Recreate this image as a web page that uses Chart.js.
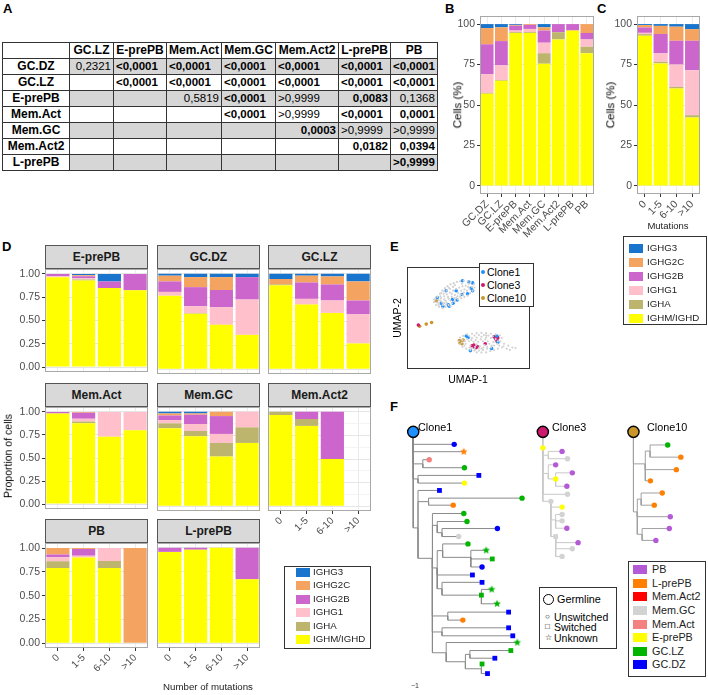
<!DOCTYPE html>
<html><head><meta charset="utf-8">
<script src="https://cdn.jsdelivr.net/npm/chart.js@4.4.1/dist/chart.umd.min.js"></script>
<style>
html,body{margin:0;padding:0;background:#fff}
body{width:708px;height:695px;position:relative;overflow:hidden;font-family:"Liberation Sans",Arial,Helvetica,sans-serif;color:#000}
canvas{position:absolute;pointer-events:none}
.t{position:absolute;white-space:nowrap;line-height:1}
table.pt{position:absolute;left:2px;top:42px;border-collapse:collapse;table-layout:fixed}
table.pt td{border:1px solid #333;height:15px;padding:0 2px;white-space:nowrap;line-height:15px;font-size:11.5px;overflow:hidden}
table.pt td.h{font-weight:bold;text-align:center;font-size:12px}
table.pt td.g{background:#d6d6d6}
table.pt td.b{font-weight:bold}
table.pt td.r{text-align:right}
table.pt td.l{text-align:left}
.strip{position:absolute;background:#d9d9d9;border:1px solid #555;box-sizing:border-box;text-align:center;font-weight:bold;font-size:12px;color:#1a1a1a}
.box{position:absolute;border:1px solid #333;box-sizing:border-box;background:#fff}
.sw{position:absolute;width:14px;height:9px}
</style></head><body>
<script>
// ---------------- DATA ----------------
// Panel A
const tableCols=['GC.LZ','E-prePB','Mem.Act','Mem.GC','Mem.Act2','L-prePB','PB'];
const tableRows=['GC.DZ','GC.LZ','E-prePB','Mem.Act','Mem.GC','Mem.Act2','L-prePB'];
const pValues=[
 ['0,2321','<0,0001','<0,0001','<0,0001','<0,0001','<0,0001','<0,0001'],
 ['','<0,0001','<0,0001','<0,0001','<0,0001','<0,0001','<0,0001'],
 ['','','0,5819','<0,0001','>0,9999','0,0083','0,1368'],
 ['','','','<0,0001','>0,9999','<0,0001','0,0001'],
 ['','','','','0,0003','>0,9999','>0,9999'],
 ['','','','','','0,0182','0,0394'],
 ['','','','','','','>0,9999']];
const pBold=[
 [0,1,1,1,1,1,1],[0,1,1,1,1,1,1],[0,0,0,1,0,1,0],[0,0,0,1,0,1,1],[0,0,0,0,1,0,0],[0,0,0,0,0,1,1],[0,0,0,0,0,0,1]];

// Isotypes (stack order bottom -> top)
const isoNames=['IGHM/IGHD','IGHA','IGHG1','IGHG2B','IGHG2C','IGHG3'];
const legendOrder=['IGHG3','IGHG2C','IGHG2B','IGHG1','IGHA','IGHM/IGHD'];

// Panel B (% cells per population)
const popLabels=['GC.DZ','GC.LZ','E-prePB','Mem.Act','Mem.GC','Mem.Act2','L-prePB','PB'];
const bIGHM =[57,65,94.5,94.5,75.5,90.5,96,82];
const bIGHA =[0.5,0.5,0.5,0.5,6.5,4.5,0,4];
const bIGHG1=[11.5,9,1,2,6.5,0,0,4.5];
const bIGHG2B=[18.5,15,3,2.5,7.5,5,4,4];
const bIGHG2C=[10,8.5,0.5,0.5,2,0,0,5.5];
const bIGHG3=[2.5,2,0.5,0,2,0,0,0];

// Panel C (% cells per mutation bin)
const mutLabels=['0','1-5','6-10','>10'];
const cIGHM =[92.8,75.7,60.2,42.3];
const cIGHA =[1,1,1,1.4];
const cIGHG1=[0.8,5.2,13.8,27.8];
const cIGHG2B=[3.3,12,14.7,18.2];
const cIGHG2C=[1.5,5,8.7,7.2];
const cIGHG3=[0.6,1.1,1.6,3.1];

// Panel D (proportion; rows = IGHM/IGHD, IGHA, IGHG1, IGHG2B, IGHG2C, IGHG3; cols = mutation bins)
const dEprePB=[[0.965,0.93,0.85,0.825],[0,0.01,0,0],[0.01,0.015,0,0],[0.025,0.02,0.07,0.175],[0,0.01,0,0],[0,0.015,0.08,0]];
const dGCDZ=[[0.77,0.58,0.465,0.36],[0,0.005,0,0],[0.04,0.075,0.185,0.37],[0.11,0.2,0.18,0.235],[0.06,0.105,0.135,0],[0.02,0.035,0.035,0.035]];
const dGCLZ=[[0.88,0.677,0.59,0.27],[0.01,0,0,0],[0,0.06,0.13,0.305],[0,0.172,0.168,0.145],[0.055,0.071,0.084,0.2],[0.055,0.02,0.028,0.08]];
const dMemAct=[[0.982,0.877,0.73,0.8],[0,0.018,0,0],[0,0.031,0.27,0.2],[0.018,0.064,0,0],[0,0.01,0,0],[0,0,0,0]];
const dMemGC=[[0.825,0.74,0.526,0.67],[0.052,0.056,0.144,0.165],[0.035,0.074,0.095,0.165],[0.048,0.098,0.189,0],[0.022,0.014,0.046,0],[0.018,0.018,0,0]];
const dMemAct2=[[0.965,0.85,0.5,0],[0.035,0.073,0,0],[0,0,0,0],[0,0.077,0.5,0],[0,0,0,0],[0,0,0,0]];
const dPB=[[0.79,0.9,0.79,0],[0.071,0,0.075,0],[0.043,0.02,0.135,0],[0.028,0.07,0,0],[0.068,0.01,0,1],[0,0,0,0]];
const dLprePB=[[0.957,0.98,1,0.67],[0,0,0,0],[0,0,0,0],[0.043,0.02,0,0.33],[0,0,0,0],[0,0,0,0]];
const facetNames=['E-prePB','GC.DZ','GC.LZ','Mem.Act','Mem.GC','Mem.Act2','PB','L-prePB'];
const facetData=[dEprePB,dGCDZ,dGCLZ,dMemAct,dMemGC,dMemAct2,dPB,dLprePB];

// Panel E (UMAP embedding, arbitrary units)
const umapCells=[[240,120],[248,110],[256,100],[264,92],[272,85],[282,80],[292,76],[302,72],[312,70],[324,68],[336,70],[346,74],[356,80],[358,90],[352,100],[344,108],[336,116],[326,120],[316,124],[306,128],[296,134],[286,140],[276,146],[266,152],[256,156],[246,152],[236,146],[230,136],[234,128],[244,130],[252,124],[262,118],[270,112],[280,106],[290,100],[300,94],[310,90],[320,86],[330,84],[338,88],[326,96],[316,100],[306,108],[296,114],[286,120],[276,126],[266,132],[256,138],[246,140],[258,146],[270,138],[282,132],[294,124],[304,118],[314,112],[324,106],[334,100],[270,100],[260,110],[250,118],[280,94],[290,88],[262,140],[240,138],
 [276,90],[296,82],[318,78],[340,78],[350,88],[286,110],[274,120],[262,128],[250,132],[300,124],[312,118],[322,114],[342,94],[268,144],[282,150],[244,146],[230,128],[252,108],[262,102],
 [312,250],[322,245],[335,240],[350,238],[365,236],[380,235],[395,236],[410,238],[425,240],[438,244],[445,252],[440,262],[430,270],[420,276],[410,282],[398,286],[385,290],[372,292],[358,292],[345,290],[332,286],[320,280],[312,272],[308,262],[320,258],[335,255],[350,252],[365,250],[380,248],[395,250],[410,252],[425,255],[418,265],[405,270],[390,274],[375,278],[360,280],[345,276],[330,270],[340,262],[355,264],[370,264],[385,262],[400,262],[365,272],[380,286],[350,284],[395,244],[452,270],[465,276],[478,282],[488,284],[460,286],[470,290],[445,282],[432,286],[420,290],[408,294],[395,298],[380,298],[365,298],
 [328,262],[342,246],[358,244],[372,242],[388,242],[402,244],[416,246],[432,262],[412,276],[398,280],[386,282],[372,284],[358,286],[342,282],[326,276],[318,266],[392,256],[378,256],[362,258],[348,258],[436,276],[450,278]];
const clone1Umap=[[320,68],[340,72],[352,75],[347,92],[352,100],[336,110],[300,100],[318,112],[268,100],[288,128],[303,130],[290,140],[275,145],[258,150],[278,150],[240,122],[252,140],[332,245],[338,250],[428,245],[432,265],[345,292],[412,285]];
const clone3Umap=[[180,210],[420,248],[430,248],[425,255],[432,252],[350,277],[356,274],[362,283],[355,280],[368,280],[392,270],[430,263]];
const clone10Umap=[[184,214],[205,207],[222,202],[237,132],[310,260],[316,265],[322,258],[318,270],[312,268]];
const cloneNames=['Clone1','Clone3','Clone10'];

// Panel F (lineage trees: x = distance, y = leaf order, parent index, cell type, isotype status)
const c1X=[160,288,318,190,210,320,175,365,320,175,242,208,500,285,220,318,235,328,250,423,302,235,252,331,340,388,407,375,345,250,375,373,405,422,268,458,315,250,458,471,263,485,323,337,465,415,373,375,392];
const c1Y=[265,304,327,365,352,377,412,401,425,565,448,483,472,494,660,520,557,545,580,567,592,690,636,615,657,635,662,687,712,755,735,775,757,802,840,828,853,890,877,902,955,923,983,960,948,972,1005,990,1020];
const c1Par=[-1,0,0,0,3,3,0,6,6,0,9,9,11,11,9,14,14,16,16,18,18,14,21,22,22,24,24,24,21,21,29,29,31,31,14,34,34,14,37,37,14,40,40,42,43,43,42,46,46];
const c1Type=['germ','GC.DZ','L-prePB','','Mem.Act','GC.LZ','','GC.DZ','E-prePB','','GC.DZ','','GC.LZ','L-prePB','','GC.LZ','','GC.LZ','','GC.DZ','Mem.GC','','','GC.LZ','','GC.LZ','GC.LZ','GC.DZ','GC.DZ','','GC.DZ','GC.LZ','GC.LZ','GC.LZ','','GC.DZ','L-prePB','','GC.DZ','GC.DZ','','GC.LZ','','','GC.LZ','GC.DZ','','GC.LZ','GC.DZ'];
const c1Shape=['o','o','*','','o','o','','s','o','','s','','o','o','','o','','o','','o','o','','','o','','*','s','o','s','','s','s','*','*','','s','o','','s','s','','*','','','s','s','','s','s'];
const c3X=[565,565,582,625,642,582,605,605,657,640,642,590,625,605,625,625,640,605,675,657,625];
const c3Y=[265,315,338,326,349,395,368,412,393,435,460,482,500,540,523,543,566,592,611,630,654];
const c3Par=[-1,0,1,2,2,1,5,5,7,7,1,1,11,11,13,13,13,11,17,17,17];
const c3Type=['germ','E-prePB','','PB','Mem.GC','','PB','E-prePB','PB','PB','Mem.GC','Mem.GC','E-prePB','','Mem.GC','Mem.GC','PB','Mem.GC','PB','Mem.GC','Mem.GC'];
const c3Shape=['o','o','','o','o','','o','o','o','o','o','o','o','','o','o','o','s','o','o','o'];
const c10X=[848,885,900,955,996,982,901,860,872,938,913,963,875,960,918];
const c10Y=[265,365,325,306,344,383,418,515,475,456,494,530,585,567,604];
const c10Par=[-1,0,1,2,2,1,1,0,7,8,8,7,7,12,12];
const c10Type=['germ','','','GC.LZ','L-prePB','L-prePB','L-prePB','','','L-prePB','L-prePB','PB','','PB','PB'];
const c10Shape=['o','','','o','o','o','o','','','o','o','o','','o','o'];
const cellTypes=['PB','L-prePB','Mem.Act2','Mem.GC','Mem.Act','E-prePB','GC.LZ','GC.DZ'];

// ---------------- STYLE ----------------
const isoColor={'IGHM/IGHD':'#ffff00','IGHA':'#bdb56e','IGHG1':'#ffc0cb','IGHG2B':'#cc66cc','IGHG2C':'#f4a460','IGHG3':'#1874cd'};
const cloneColor={'Clone1':'#1e90ff','Clone3':'#cc1a6e','Clone10':'#c8962a'};
const cellColor={'PB':'#b45ad6','L-prePB':'#ff7f00','Mem.Act2':'#ff0000','Mem.GC':'#d3d3d3','Mem.Act':'#f58080','E-prePB':'#ffff00','GC.LZ':'#00b400','GC.DZ':'#0000ff'};
Chart.defaults.font.family='"Liberation Sans", Arial, sans-serif';

function addText(txt,x,y,o={}){const d=document.createElement('div');d.className='t';d.textContent=txt;d.style.left=x+'px';d.style.top=y+'px';d.style.fontSize=(o.size||10)+'px';d.style.fontWeight=o.bold?'bold':'normal';d.style.color=o.color||'#000';const tx=o.align==='center'?'-50%':(o.align==='right'?'-100%':'0');d.style.transform='translate('+tx+',-50%)'+(o.rot?' rotate(-90deg)':'');document.body.appendChild(d);return d;}
function addCanvas(l,t,w,h){const c=document.createElement('canvas');c.width=w;c.height=h;c.style.left=l+'px';c.style.top=t+'px';c.style.width=w+'px';c.style.height=h+'px';document.body.appendChild(c);return c;}
function legendBox(l,t,w,h,items,colors,ys,swX,txX,size){const b=document.createElement('div');b.className='box';Object.assign(b.style,{left:l+'px',top:t+'px',width:w+'px',height:h+'px'});document.body.appendChild(b);
 items.forEach((it,i)=>{const s=document.createElement('div');s.className='sw';s.style.left=swX+'px';s.style.top=(ys[i]-4.5)+'px';s.style.background=colors[it];document.body.appendChild(s);addText(it,txX,ys[i],{size:size,color:'#222'});});}
const borderPlugin={id:'panelBorder',afterDatasetsDraw(ch,a,opts){const {left,top,right,bottom}=ch.chartArea;const c=ch.ctx;c.save();c.strokeStyle=opts.color||'#aaa';c.lineWidth=1;const L=Math.round(left),T=Math.round(top),R=Math.round(right),B=Math.round(bottom);c.strokeRect(L+0.5,T+0.5,R-L-1,B-T-1);c.restore();}};

// ---------------- PANEL LABELS ----------------
[['A',3,8],['B',445,8],['C',597,8],['D',2,246],['E',390,246],['F',390,406]].forEach(p=>addText(p[0],p[1],p[2],{size:13,bold:true}));

// ---------------- PANEL A: table ----------------
(function(){const colW=[67,44,53,54,54,63,52,44];const t=document.createElement('table');t.className='pt';
 const cg=document.createElement('colgroup');colW.forEach(w=>{const c=document.createElement('col');c.style.width=w+'px';cg.appendChild(c);});t.appendChild(cg);
 const hr=t.insertRow();const h0=hr.insertCell();h0.className='h';tableCols.forEach(c=>{const td=hr.insertCell();td.className='h';td.textContent=c;});
 tableRows.forEach((r,i)=>{const tr=t.insertRow();const l=tr.insertCell();l.className='h';l.textContent=r;
  pValues[i].forEach((v,j)=>{const td=tr.insertCell();td.textContent=v;let cls=[];if(i%2===0)cls.push('g');if(pBold[i][j])cls.push('b');cls.push(/^[<>]/.test(v)?'l':'r');td.className=cls.join(' ');});});
 document.body.appendChild(t);})();

// ---------------- stacked bar helper ----------------
function isoChart(o){
 const W=o.right-o.left,H=o.bottom-o.top;const cv=addCanvas(o.left,o.top,W,H);
 const isMajor=v=>o.majors.some(m=>Math.abs(m-v)<1e-9);
 return new Chart(cv,{type:'bar',
  data:{labels:o.labels,datasets:o.series.map((s,i)=>({label:isoNames[i],data:s,backgroundColor:isoColor[isoNames[i]],borderWidth:0,barPercentage:0.9,categoryPercentage:1}))},
  options:{responsive:false,animation:false,devicePixelRatio:1,
   layout:{padding:{top:o.plotT-o.top,right:o.right-o.plotR,left:0,bottom:0}},
   plugins:{legend:{display:false},tooltip:{enabled:false},panelBorder:{color:'#a8a8a8'}},
   scales:{
    x:{stacked:true,grid:{offset:false,color:'#ebebeb',drawTicks:o.showX,tickLength:3,tickColor:'#333'},border:{display:false},
       ticks:{display:o.showX,maxRotation:45,minRotation:45,autoSkip:false,color:'#4d4d4d',font:{size:o.xFont||10},padding:1},
       afterFit:s=>{s.height=o.bottom-o.plotB;}},
    y:{stacked:true,min:o.min,max:o.max,
       afterBuildTicks:s=>{s.ticks=o.majors.concat(o.minors).sort((a,b)=>a-b).map(v=>({value:v}));},
       grid:{color:c=>isMajor(c.tick.value)?'#e6e6e6':'#f4f4f4',drawTicks:o.showY,tickLength:3,tickColor:c=>isMajor(c.tick.value)?'#333':'rgba(0,0,0,0)'},
       border:{display:false},
       ticks:{display:o.showY,color:'#4d4d4d',font:{size:10.5},padding:2,callback:v=>isMajor(v)?o.fmt(v):''},
       afterFit:s=>{s.width=o.plotL-o.left;}}}},
  plugins:[borderPlugin]});
}

// ---------------- PANEL B ----------------
isoChart({left:458,top:0,right:598,bottom:240,plotL:480,plotR:594,plotT:16,plotB:194,labels:popLabels,
 series:[bIGHM,bIGHA,bIGHG1,bIGHG2B,bIGHG2C,bIGHG3],min:-5,max:105,majors:[0,25,50,75,100],minors:[12.5,37.5,62.5,87.5],fmt:v=>String(v),showX:true,showY:true,xFont:10.5});
addText('Cells (%)',458,105,{size:11.5,rot:true,align:'center'});
// ---------------- PANEL C ----------------
isoChart({left:612,top:0,right:706,bottom:232,plotL:637,plotR:700,plotT:16,plotB:194,labels:mutLabels,
 series:[cIGHM,cIGHA,cIGHG1,cIGHG2B,cIGHG2C,cIGHG3],min:-5,max:105,majors:[0,25,50,75,100],minors:[12.5,37.5,62.5,87.5],fmt:v=>String(v),showX:true,showY:true,xFont:10.5});
addText('Cells (%)',611,105,{size:11.5,rot:true,align:'center'});
addText('Mutations',668,226,{size:9.5,align:'center',color:'#222'});
legendBox(623,236,84,89,legendOrder,isoColor,[248,262,276,290,304,318],629,647,9.7);

// ---------------- PANEL D ----------------
const colL=[45,157,268],colR=[148,260,371],rowT=[269,407,543],rowB=[374,511,648];
facetData.forEach((m,k)=>{const r=Math.floor(k/3),c=k%3;const showX=(k>=5),showY=(c===0);
 const left=c===0?0:colL[c]-6;
 isoChart({left:left,top:rowT[r]-8,right:colR[c]+6,bottom:rowB[r]+(showX?32:6),plotL:colL[c],plotR:colR[c],plotT:rowT[r],plotB:rowB[r],labels:mutLabels,
  series:m,min:-0.05,max:1.05,majors:[0,0.25,0.5,0.75,1],minors:[0.125,0.375,0.625,0.875],fmt:v=>v.toFixed(2),showX:showX,showY:showY,xFont:10});
 const s=document.createElement('div');s.className='strip';Object.assign(s.style,{left:colL[c]+'px',top:(rowT[r]-24)+'px',width:(colR[c]-colL[c])+'px',height:'24px',lineHeight:'22px'});s.textContent=facetNames[k];document.body.appendChild(s);});
addText('Proportion of cells',8,456,{size:10.5,rot:true,align:'center'});
addText('Number of mutations',208,687,{size:9.7,align:'center',color:'#222'});
legendBox(284,566,87,83,legendOrder,isoColor,[572,585,599,612,626,639],296,313,9.7);

// ---------------- PANEL E ----------------
(function(){const cv=addCanvas(403,263,131,110);
 const toXY=a=>a.map(p=>({x:p[0],y:p[1]}));
 new Chart(cv,{type:'scatter',data:{datasets:[
  {data:toXY(umapCells),backgroundColor:'#d2d2d2',pointRadius:1.1,borderWidth:0},
  {data:toXY(clone1Umap),backgroundColor:cloneColor.Clone1,pointRadius:1.8,borderWidth:0},
  {data:toXY(clone3Umap),backgroundColor:cloneColor.Clone3,pointRadius:1.8,borderWidth:0},
  {data:toXY(clone10Umap),backgroundColor:cloneColor.Clone10,pointRadius:1.8,borderWidth:0}]},
  options:{responsive:false,animation:false,devicePixelRatio:1,layout:{padding:0},
   plugins:{legend:{display:false},tooltip:{enabled:false},panelBorder:{color:'#333'}},
   scales:{x:{display:false,min:144,max:534},y:{display:false,min:24,max:351,reverse:true}}},
  plugins:[borderPlugin]});
 const b=document.createElement('div');b.className='box';Object.assign(b.style,{left:'479px',top:'263px',width:'55px',height:'44px'});document.body.appendChild(b);
 [272,285,298].forEach((y,i)=>{const d=document.createElement('div');Object.assign(d.style,{position:'absolute',left:'481px',top:(y-2)+'px',width:'4px',height:'4px',borderRadius:'50%',background:cloneColor[cloneNames[i]]});document.body.appendChild(d);addText(cloneNames[i],487,y,{size:10.5});});
 addText('UMAP-2',397,318,{size:10.5,rot:true,align:'center'});
 addText('UMAP-1',468,379,{size:10.5,align:'center'});
})();

// ---------------- PANEL F ----------------
function starImg(color,r){const s=Math.ceil(r*2+2);const c=document.createElement('canvas');c.width=s;c.height=s;const x=c.getContext('2d');x.fillStyle=color;x.beginPath();for(let i=0;i<10;i++){const a=-Math.PI/2+i*Math.PI/5;const rr=i%2?r*0.45:r;x.lineTo(s/2+rr*Math.cos(a),s/2+rr*Math.sin(a));}x.closePath();x.fill();return c;}
const starCache={};function star(col){if(!starCache[col])starCache[col]=starImg(col,4);return starCache[col];}
function treeDatasets(X,Y,P,T,S,lineColor,germColor){
 const seg=[];for(let i=0;i<X.length;i++){const p=P[i];if(p<0)continue;seg.push({x:X[p],y:Y[p]},{x:X[p],y:Y[i]},{x:X[i],y:Y[i]},{x:null,y:null});}
 const pts=[],bg=[],ps=[],rad=[];
 for(let i=0;i<X.length;i++){if(T[i]===''||T[i]==='germ')continue;pts.push({x:X[i],y:Y[i]});const col=cellColor[T[i]];bg.push(col);
  if(S[i]==='*'){ps.push(star(col));rad.push(4);}else if(S[i]==='s'){ps.push('rect');rad.push(3.4);}else{ps.push('circle');rad.push(2.7);}}
 const g=X.findIndex((v,i)=>T[i]==='germ');
 return [
  {type:'line',data:seg,borderColor:lineColor,borderWidth:1,pointRadius:0,spanGaps:false,tension:0,order:3},
  {type:'scatter',data:pts,backgroundColor:bg,pointStyle:ps,pointRadius:rad,borderWidth:0,order:2},
  {type:'scatter',data:[{x:X[g],y:Y[g]}],backgroundColor:germColor,borderColor:'#000',borderWidth:1.4,pointRadius:5.6,order:1}];
}
(function(){const cv=addCanvas(355,340,353,355);
 const ds=[].concat(
  treeDatasets(c1X,c1Y,c1Par,c1Type,c1Shape,'#8a8a8a',cloneColor.Clone1),
  treeDatasets(c3X,c3Y,c3Par,c3Type,c3Shape,'#c9c9c9',cloneColor.Clone3),
  treeDatasets(c10X,c10Y,c10Par,c10Type,c10Shape,'#a0a0a0',cloneColor.Clone10));
 new Chart(cv,{type:'scatter',data:{datasets:ds},
  options:{responsive:false,animation:false,devicePixelRatio:1,layout:{padding:0},
   plugins:{legend:{display:false},tooltip:{enabled:false}},
   scales:{x:{type:'linear',display:false,min:0,max:1059},y:{type:'linear',display:false,min:0,max:1065,reverse:true}}}});
 addText('Clone1',418,427,{size:10.8});
 addText('Clone3',552,427,{size:10.8});
 addText('Clone10',647,427,{size:10.8});
 addText('\u22121',411,685,{size:7,color:'#333'});
 // shape legend
 const b=document.createElement('div');b.className='box';Object.assign(b.style,{left:'539px',top:'587px',width:'78px',height:'62px'});document.body.appendChild(b);
 const gc=document.createElement('div');Object.assign(gc.style,{position:'absolute',left:'543px',top:'594px',width:'9px',height:'9px',border:'1.4px solid #000',borderRadius:'50%'});document.body.appendChild(gc);
 addText('Germline',557,599,{size:10.8});
 addText('\u25CB',545,617,{size:8});addText('Unswitched',554,617,{size:10.5});
 addText('\u25A1',545,627,{size:8});addText('Switched',554,627,{size:10.5});
 addText('\u2606',545,638,{size:8});addText('Unknown',554,638,{size:10.5});
 legendBox(628,561,78,116,cellTypes,cellColor,[569,583,596,610,624,637,651,664],633,652,10.8);
})();
</script>
</body></html>
